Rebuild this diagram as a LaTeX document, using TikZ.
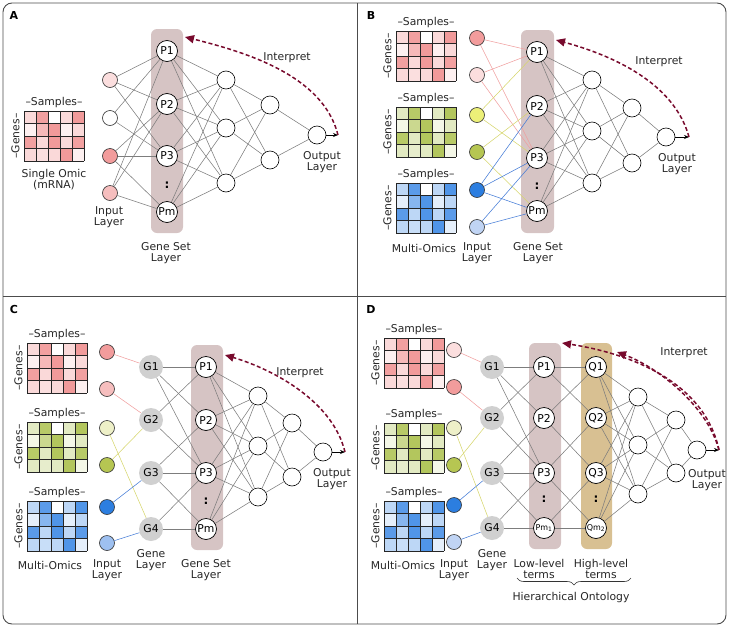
\documentclass[tikz,border=0pt]{standalone}
\usepackage{fontspec}
\setmainfont{DejaVu Sans}
\usetikzlibrary{arrows.meta,decorations.pathreplacing}

\definecolor{omred}{RGB}{238,128,128}
\definecolor{omgreen}{RGB}{160,184,52}
\definecolor{omblue}{RGB}{36,122,226}
\definecolor{setfill}{RGB}{214,196,196}
\definecolor{hifill}{RGB}{216,192,146}
\definecolor{genefill}{RGB}{208,208,208}
\definecolor{linkgray}{RGB}{125,125,125}
\definecolor{lnred}{RGB}{240,160,160}
\definecolor{lnyel}{RGB}{214,214,110}
\definecolor{lnblue}{RGB}{70,125,215}
\definecolor{interpc}{RGB}{120,10,45}
\definecolor{inred}{RGB}{242,156,156}
\definecolor{inpale}{RGB}{251,222,222}
\definecolor{inpink}{RGB}{246,190,190}
\definecolor{inyel}{RGB}{236,240,120}
\definecolor{inpaleyel}{RGB}{238,240,200}
\definecolor{inolive}{RGB}{182,198,82}
\definecolor{inblue}{RGB}{44,126,224}
\definecolor{inlblue}{RGB}{192,212,244}
\definecolor{inmblue}{RGB}{158,192,240}

% omics matrix: x, y (top left), colour, name
\newcommand{\omicgrid}[4]{%
  \foreach \row/\vals in {0/{30,75,0,30,80},1/{12,55,80,12,30},2/{75,30,80,30,75},3/{30,25,30,80,12}}{
    \foreach \v [count=\col from 0] in \vals
      \fill[#3!\v!white] (#1+\col*12,#2+\row*12.5) rectangle ++(12,12.5);
  }
  \foreach \k in {0,...,5} \draw[gridline] (#1+\k*12,#2) -- ++(0,50);
  \foreach \k in {0,...,4} \draw[gridline] (#1,#2+\k*12.5) -- ++(60,0);
  \node[lbl] (#4-s) at (#1+30,#2-8) {–Samples–};
  \node[lbl, rotate=90] (#4-g) at (#1-8.5,#2+25) {–Genes–};
}

\begin{document}
\begin{tikzpicture}[x=1pt, y=-1pt,
    font=\fontsize{10.8}{11}\selectfont,
    lbl/.style={align=center, text=black!85, inner sep=0pt},
    tag/.style={font=\fontsize{11}{11}\selectfont\bfseries, inner sep=0pt},
    gridline/.style={draw=black!85, line width=0.6pt},
    inp/.style={circle, draw=black!80, line width=0.6pt, minimum size=15pt, inner sep=0pt},
    term/.style={circle, draw=black, line width=0.7pt, fill=white, minimum size=21pt, inner sep=0pt},
    gene/.style={circle, fill=genefill, minimum size=24pt, inner sep=0pt},
    unit/.style={circle, draw=black, line width=0.6pt, fill=white, minimum size=18pt, inner sep=0pt},
    dots/.style={font=\fontsize{12}{12}\selectfont\bfseries, inner sep=0pt},
    link/.style={draw=linkgray, line width=0.55pt},
    outarrow/.style={-{Stealth[length=5pt,width=4pt]}, line width=0.7pt},
    interp/.style={-{Triangle[length=9pt,width=8pt]}, draw=interpc, line width=1.5pt,
      dash pattern=on 4pt off 2.5pt},
    frame/.style={draw=black!70, line width=0.9pt}
  ]
  \useasboundingbox (0,0) rectangle (729,627);
  \draw[frame, rounded corners=9] (3,3) rectangle (726,624);
  \draw[frame] (357,3) -- (357,624);
  \draw[frame] (3,296) -- (726,296);

  % ---------- A ----------
  \node[tag] (a-tag) at (14,15) {A};
  \fill[setfill, rounded corners=6] (151,29) rectangle (183,233);
  \omicgrid{24}{111}{omred}{a-m}
  \node[lbl] (a-omic) at (54,180) {Single Omic\\(mRNA)};
  \foreach \n/\y/\c in {1/80/inpale,2/118/white,3/156/inred,4/193/inpink}
    \node[inp, fill=\c] (a-i\n) at (110,\y) {};
  \foreach \n/\y in {1/51,2/104,3/156,m/212}
    \node[term] (a-p\n) at (167,\y) {P\n};
  \node[dots] (a-d) at (167,185) {:};
  \foreach \n/\y in {1/80,2/128,3/183} \node[unit] (a-h\n) at (226,\y) {};
  \foreach \n/\y in {1/105,2/160} \node[unit] (a-k\n) at (270,\y) {};
  \node[unit] (a-o) at (317,135) {};
  \coordinate (a-tip) at (338,135);
  \coordinate (a-head) at (185,37);

  \foreach \i/\j in {1/1,1/2,1/3,2/1,2/3,3/2,3/3,3/m,4/1,4/2,4/m}
    \draw[link] (a-i\i) -- (a-p\j);
  \foreach \i in {1,2,3,m} \foreach \j in {1,2,3} \draw[link] (a-p\i) -- (a-h\j);
  \foreach \i in {1,2,3} \foreach \j in {1,2} \draw[link] (a-h\i) -- (a-k\j);
  \foreach \i in {1,2} \draw[link] (a-k\i) -- (a-o);
  \draw[outarrow] (a-o) -- (a-tip);
  \draw[interp] (a-tip) .. controls +(-15,-60) and +(60,15) .. (a-head);

  \node[lbl] (a-inl) at (109,217) {Input\\Layer};
  \node[lbl] (a-setl) at (166,253) {Gene Set\\Layer};
  \node[lbl] (a-outl) at (322,162) {Output\\Layer};
  \node[lbl] (a-int) at (287,58) {Interpret};

  % ---------- B ----------
  \node[tag] (b-tag) at (371,15) {B};
  \fill[setfill, rounded corners=6] (521,30) rectangle (554,233);
  \omicgrid{396}{31}{omred}{b-m1}
  \omicgrid{396}{107}{omgreen}{b-m2}
  \omicgrid{396}{183}{omblue}{b-m3}
  \foreach \n/\y/\c in {1/38/inred,2/75/inpale,3/115/inyel,4/152/inolive,5/190/inblue,6/227/inlblue}
    \node[inp, fill=\c] (b-i\n) at (477,\y) {};
  \foreach \n/\y in {1/52,2/106,3/158,m/211}
    \node[term] (b-p\n) at (537,\y) {P\n};
  \node[dots] (b-d) at (537,186) {:};
  \foreach \n/\y in {1/80,2/131,3/183} \node[unit] (b-h\n) at (592,\y) {};
  \foreach \n/\y in {1/108,2/163} \node[unit] (b-k\n) at (632,\y) {};
  \node[unit] (b-o) at (666,137) {};
  \coordinate (b-tip) at (689,137);
  \coordinate (b-head) at (556,40);

  \foreach \i/\j/\c in {1/1/lnred,1/3/lnred,2/1/lnred,2/3/lnred,3/1/lnyel,3/3/lnyel,
      4/2/lnyel,4/m/lnyel,5/2/lnblue,5/3/lnblue,5/m/lnblue,6/3/lnblue,6/m/lnblue}
    \draw[link, draw=\c] (b-i\i) -- (b-p\j);
  \foreach \i in {1,2,3,m} \foreach \j in {1,2,3} \draw[link] (b-p\i) -- (b-h\j);
  \foreach \i in {1,2,3} \foreach \j in {1,2} \draw[link] (b-h\i) -- (b-k\j);
  \foreach \i in {1,2} \draw[link] (b-k\i) -- (b-o);
  \draw[outarrow] (b-o) -- (b-tip);
  \draw[interp] (b-tip) .. controls +(-15,-55) and +(55,15) .. (b-head);

  \node[lbl] (b-omic) at (424,248) {Multi-Omics};
  \node[lbl] (b-inl) at (477,253) {Input\\Layer};
  \node[lbl] (b-setl) at (538,253) {Gene Set\\Layer};
  \node[lbl] (b-outl) at (677,164) {Output\\Layer};
  \node[lbl] (b-int) at (659,62) {Interpret};

  % ---------- C ----------
  \node[tag] (c-tag) at (14,309) {C};
  \fill[setfill, rounded corners=6] (191,345) rectangle (223,550);
  \omicgrid{27}{343}{omred}{c-m1}
  \omicgrid{27}{422}{omgreen}{c-m2}
  \omicgrid{27}{501}{omblue}{c-m3}
  \foreach \n/\y/\c in {1/352/inred,2/389/inpink,3/428/inpaleyel,4/465/inolive,5/507/inblue,6/543/inmblue}
    \node[inp, fill=\c] (c-i\n) at (107,\y) {};
  \foreach \n/\y in {1/367,2/420,3/473,4/529}
    \node[gene] (c-g\n) at (151,\y) {G\n};
  \foreach \n/\y in {1/367,2/420,3/473,m/529}
    \node[term] (c-p\n) at (206,\y) {P\n};
  \node[dots] (c-d) at (206,501) {:};
  \foreach \n/\y in {1/396,2/446,3/497} \node[unit] (c-h\n) at (258,\y) {};
  \foreach \n/\y in {1/423,2/477} \node[unit] (c-k\n) at (292,\y) {};
  \node[unit] (c-o) at (323,452) {};
  \coordinate (c-tip) at (345,452);
  \coordinate (c-head) at (225,355);

  \foreach \i/\j/\c in {1/1/lnred,2/2/lnred,3/4/lnyel,4/2/lnyel,5/3/lnblue,6/4/lnblue}
    \draw[link, draw=\c] (c-i\i) -- (c-g\j);
  \foreach \i/\j in {1/1,1/2,1/3,2/1,2/3,3/2,3/3,3/m,4/3,4/m}
    \draw[link] (c-g\i) -- (c-p\j);
  \foreach \i in {1,2,3,m} \foreach \j in {1,2,3} \draw[link] (c-p\i) -- (c-h\j);
  \foreach \i in {1,2,3} \foreach \j in {1,2} \draw[link] (c-h\i) -- (c-k\j);
  \foreach \i in {1,2} \draw[link] (c-k\i) -- (c-o);
  \draw[outarrow] (c-o) -- (c-tip);
  \draw[interp] (c-tip) .. controls +(-12,-50) and +(50,15) .. (c-head);

  \node[lbl] (c-omic) at (50,565) {Multi-Omics};
  \node[lbl] (c-inl) at (107,570) {Input\\Layer};
  \node[lbl] (c-genel) at (151,560) {Gene\\Layer};
  \node[lbl] (c-setl) at (206,570) {Gene Set\\Layer};
  \node[lbl] (c-outl) at (332,479) {Output\\Layer};
  \node[lbl] (c-int) at (300,373) {Interpret};

  % ---------- D ----------
  \node[tag] (d-tag) at (371,309) {D};
  \fill[setfill, rounded corners=6] (529,343) rectangle (561,549);
  \fill[hifill, rounded corners=6] (581,343) rectangle (612,549);
  \omicgrid{384}{338}{omred}{d-m1}
  \omicgrid{384}{423}{omgreen}{d-m2}
  \omicgrid{384}{501}{omblue}{d-m3}
  \foreach \n/\y/\c in {1/350/inpale,2/387/inred,3/428/inpaleyel,4/465/inolive,5/505/inblue,6/542/inlblue}
    \node[inp, fill=\c] (d-i\n) at (454,\y) {};
  \foreach \n/\y in {1/367,2/418,3/473,4/528}
    \node[gene] (d-g\n) at (492,\y) {G\n};
  \foreach \n/\y in {1/367,2/418,3/473}
    \node[term] (d-p\n) at (544,\y) {P\n};
  \node[term, font=\fontsize{8}{8}\selectfont] (d-pm) at (544,528) {Pm\textsubscript{1}};
  \foreach \n/\y in {1/367,2/418,3/473}
    \node[term] (d-q\n) at (596,\y) {Q\n};
  \node[term, font=\fontsize{8}{8}\selectfont] (d-qm) at (596,528) {Qm\textsubscript{2}};
  \node[dots] (d-d1) at (544,499) {:};
  \node[dots] (d-d2) at (596,499) {:};
  \foreach \n/\y in {1/397,2/445,3/494} \node[unit] (d-h\n) at (638,\y) {};
  \foreach \n/\y in {1/420,2/473} \node[unit] (d-k\n) at (676,\y) {};
  \node[unit] (d-o) at (697,450) {};
  \coordinate (d-tip) at (719,450);
  \coordinate (d-head1) at (562,343);
  \coordinate (d-head2) at (617,352);

  \foreach \i/\j/\c in {1/1/lnred,2/2/lnred,3/4/lnyel,4/2/lnyel,5/3/lnblue,6/4/lnblue}
    \draw[link, draw=\c] (d-i\i) -- (d-g\j);
  \foreach \i/\j in {1/1,1/2,1/3,2/1,2/3,3/2,3/3,3/m,4/3,4/m}
    \draw[link] (d-g\i) -- (d-p\j);
  \foreach \i/\j in {1/1,1/2,2/1,2/3,3/2,3/m,m/3,m/m}
    \draw[link] (d-p\i) -- (d-q\j);
  \foreach \i in {1,2,3,m} \foreach \j in {1,2,3} \draw[link] (d-q\i) -- (d-h\j);
  \foreach \i in {1,2,3} \foreach \j in {1,2} \draw[link] (d-h\i) -- (d-k\j);
  \foreach \i in {1,2} \draw[link] (d-k\i) -- (d-o);
  \draw[outarrow] (d-o) -- (d-tip);
  \draw[interp] (d-tip) .. controls +(-15,-70) and +(65,10) .. (d-head1);
  \draw[interp] (d-tip) .. controls +(-12,-45) and +(40,15) .. (d-head2);

  \node[lbl] (d-omic) at (403,565) {Multi-Omics};
  \node[lbl] (d-inl) at (454,570) {Input\\Layer};
  \node[lbl] (d-genel) at (492,560) {Gene\\Layer};
  \node[lbl] (d-lowl) at (539,569) {Low-level\\terms};
  \node[lbl] (d-highl) at (601,569) {High-level\\terms};
  \node[lbl] (d-outl) at (707,480) {Output\\Layer};
  \node[lbl] (d-int) at (684,353) {Interpret};
  \coordinate (d-br1) at (517,578);
  \coordinate (d-br2) at (631,578);
  \draw[decorate, decoration={brace, amplitude=7pt}, draw=black!80, line width=0.6pt] (d-br2) -- (d-br1);
  \node[lbl] (d-onto) at (571,598) {Hierarchical Ontology};
\end{tikzpicture}
\end{document}
